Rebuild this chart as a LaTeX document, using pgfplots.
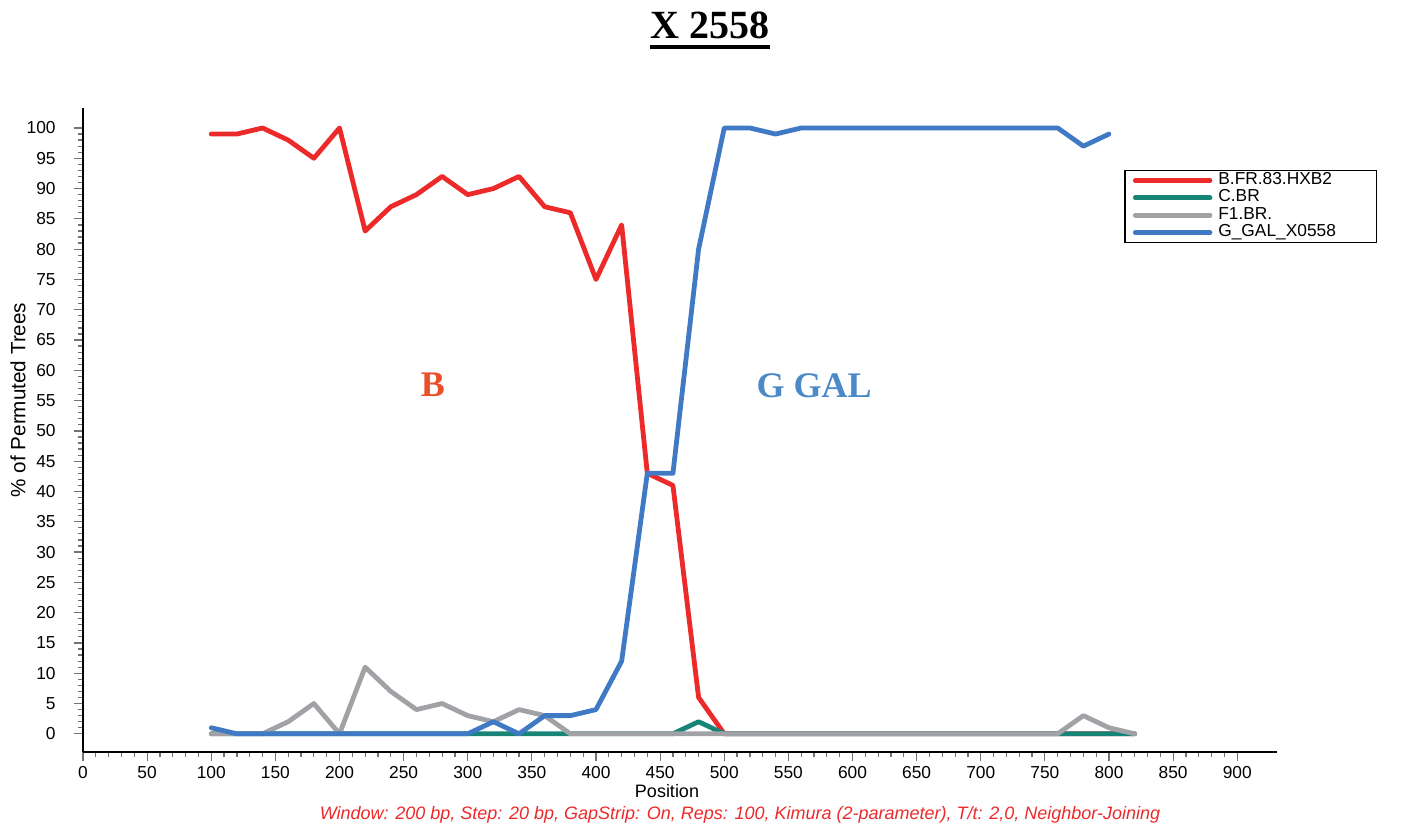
\documentclass[border=0pt]{standalone}
\usepackage{fontspec}
\setmainfont{Liberation Sans}
\newfontfamily\serifb{Liberation Serif}
\usepackage{pgfplots}
\pgfplotsset{compat=1.18}
\definecolor{cred}{RGB}{237,42,42}
\definecolor{cteal}{RGB}{22,133,120}
\definecolor{cgray}{RGB}{160,162,165}
\definecolor{cblue}{RGB}{64,121,196}
\definecolor{lblB}{RGB}{236,78,42}
\definecolor{lblG}{RGB}{76,137,200}
\begin{document}
\begin{tikzpicture}
\useasboundingbox (-62.25pt,-56.25pt) rectangle (990pt,564pt);
\begin{axis}[
  at={(0pt,0pt)}, anchor=south west, scale only axis,
  width=895.5pt, height=483pt,
  xmin=0, xmax=931, ymin=-3, ymax=103.3,
  axis x line=bottom, axis y line=left,
  axis line style={-, line width=2.2pt, black},
  every outer x axis line/.append style={-},
  every outer y axis line/.append style={-},
  xtick={0,50,...,900}, ytick={0,5,...,100},
  minor x tick num=4, minor y tick num=4,
  tick align=outside, major tick length=7pt, minor tick length=4pt,
  every tick/.style={black!55, line width=0.9pt},
  tick label style={font=\fontsize{13}{15}\selectfont},
  yticklabel style={xshift=-10pt},
  /pgf/number format/assume math mode=true,
  clip=false,
  legend style={at={(0.872,0.904)}, anchor=north west, draw=black, line width=1.1pt,
    fill=white, font=\fontsize{13}{15}\selectfont, inner xsep=6pt, inner ysep=1pt,
    row sep=0pt, column sep=4pt, nodes={inner sep=0.5pt, text height=9pt, text depth=3pt}},
  legend cell align=left,
  legend image code/.code={\draw[#1, line width=3.6pt, line cap=round] (0pt,0pt) -- (56pt,0pt);},
  every axis plot/.append style={line width=3.6pt, line join=round, line cap=round},
]
\addplot[cred] coordinates {
(100,99) (120,99) (140,100) (160,98) (180,95) (200,100) (220,83) (240,87) (260,89) (280,92)
(300,89) (320,90) (340,92) (360,87) (380,86) (400,75) (420,84) (440,43) (460,41) (480,6)
(500,0) (520,0) (540,0) (560,0) (580,0) (600,0) (620,0) (640,0) (660,0) (680,0) (700,0)
(720,0) (740,0) (760,0) (780,0) (800,0) (820,0)};
\addlegendentry{\makebox[112pt][l]{B.FR.83.HXB2}}
\addplot[cteal] coordinates {
(100,0) (120,0) (140,0) (160,0) (180,0) (200,0) (220,0) (240,0) (260,0) (280,0)
(300,0) (320,0) (340,0) (360,0) (380,0) (400,0) (420,0) (440,0) (460,0) (480,2)
(500,0) (520,0) (540,0) (560,0) (580,0) (600,0) (620,0) (640,0) (660,0) (680,0) (700,0)
(720,0) (740,0) (760,0) (780,0) (800,0) (820,0)};
\addlegendentry{C.BR}
\addplot[cgray] coordinates {
(100,0) (120,0) (140,0) (160,2) (180,5) (200,0) (220,11) (240,7) (260,4) (280,5)
(300,3) (320,2) (340,4) (360,3) (380,0) (400,0) (420,0) (440,0) (460,0) (480,0)
(500,0) (520,0) (540,0) (560,0) (580,0) (600,0) (620,0) (640,0) (660,0) (680,0) (700,0)
(720,0) (740,0) (760,0) (780,3) (800,1) (820,0)};
\addlegendentry{F1.BR.}
\addplot[cblue] coordinates {
(100,1) (120,0) (140,0) (160,0) (180,0) (200,0) (220,0) (240,0) (260,0) (280,0)
(300,0) (320,2) (340,0) (360,3) (380,3) (400,4) (420,12) (440,43) (460,43) (480,80)
(500,100) (520,100) (540,99) (560,100) (580,100) (600,100) (620,100) (640,100) (660,100)
(680,100) (700,100) (720,100) (740,100) (760,100) (780,97) (800,99)};
\addlegendentry{G\_GAL\_X0558}
\end{axis}
\node[anchor=base, inner sep=0pt, font=\serifb\bfseries\fontsize{30}{34}\selectfont] (t) at (470.25pt,534.75pt) {X 2558};
\draw[line width=2.3pt] ([yshift=-6pt]t.base west) -- ([yshift=-6pt]t.base east);
\node[anchor=base, inner sep=0pt, text=lblB, font=\serifb\bfseries\fontsize{27}{30}\selectfont] at (262.5pt,266.25pt) {B};
\node[anchor=base, inner sep=0pt, text=lblG, font=\serifb\bfseries\fontsize{27}{30}\selectfont] at (548.25pt,265.5pt) {G GAL};
\node[font=\fontsize{13.5}{15}\selectfont, inner sep=0pt] at (438pt,-29.25pt) {Position};
\node[font=\fontsize{15.5}{17}\selectfont, inner sep=0pt, rotate=90] at (-48.75pt,264pt) {\% of Permuted Trees};
\node[font=\itshape\fontsize{13.5}{15}\selectfont, text=cred, inner sep=0pt] at (492.75pt,-47.25pt) {Window: 200 bp, Step: 20 bp, GapStrip: On, Reps: 100, Kimura (2-parameter), T/t: 2,0, Neighbor-Joining};
\end{tikzpicture}
\end{document}
